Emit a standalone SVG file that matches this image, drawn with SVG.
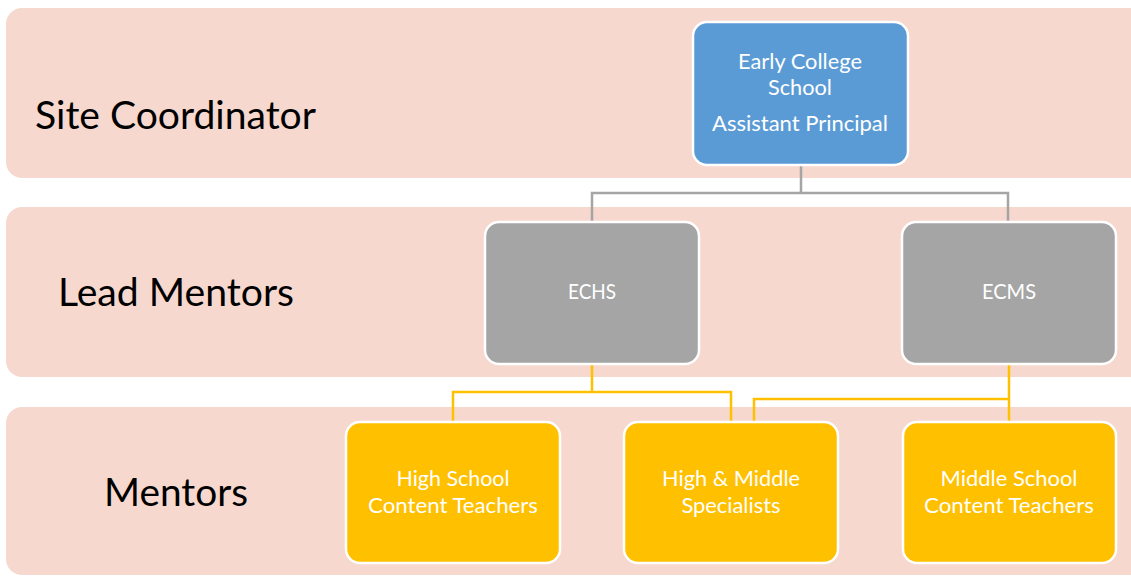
<svg xmlns="http://www.w3.org/2000/svg" width="1131" height="576" viewBox="0 0 1131 576">
  <style>
    .band { fill: #F7D8CE; }
    .lvl { font-family: Lato, "Open Sans", sans-serif; font-size: 38px; fill: #000000; }
    .node rect { stroke: #FFFFFF; stroke-width: 2.5; }
    .node text { font-family: Lato, "Open Sans", sans-serif; font-size: 21px; fill: #FFFFFF; text-anchor: middle; }
    .blue { fill: #5B9BD5; }
    .grey { fill: #A5A5A5; }
    .gold { fill: #FFC000; }
    .lnk-grey { fill: none; stroke: #A5A5A5; stroke-width: 2.5; }
    .lnk-gold { fill: none; stroke: #FFC000; stroke-width: 2.5; }
  </style>

  <rect width="1131" height="576" fill="#FFFFFF"/>

  <!-- level bands -->
  <g id="bands">
    <rect class="band" x="6" y="8" width="1145" height="170" rx="16"/>
    <rect class="band" x="6" y="207" width="1145" height="170" rx="16"/>
    <rect class="band" x="6" y="407" width="1145" height="168" rx="16"/>
    <text class="lvl" x="35" y="129" textLength="281" lengthAdjust="spacingAndGlyphs">Site Coordinator</text>
    <text class="lvl" x="58" y="306" textLength="236" lengthAdjust="spacingAndGlyphs">Lead Mentors</text>
    <text class="lvl" x="104" y="506" textLength="144" lengthAdjust="spacingAndGlyphs">Mentors</text>
  </g>

  <!-- connectors -->
  <g id="connectors">
    <path class="lnk-grey" d="M801 165 V193 M592 222 V193 H1008 V222"/>
    <path class="lnk-gold" d="M592 364 V392 M453 422 V392 H731 V422"/>
    <path class="lnk-gold" d="M1009 364 V399 M754 422 V399 H1009 V422"/>
  </g>

  <!-- site coordinator -->
  <g id="node-ecs" class="node">
    <rect class="blue" x="693" y="22" width="215" height="143" rx="14"/>
    <text x="800" y="69" textLength="124" lengthAdjust="spacingAndGlyphs">Early College</text>
    <text x="800" y="95" textLength="64" lengthAdjust="spacingAndGlyphs">School</text>
    <text x="800" y="131" textLength="176" lengthAdjust="spacingAndGlyphs">Assistant Principal</text>
  </g>

  <!-- lead mentors -->
  <g id="node-echs" class="node">
    <rect class="grey" x="485" y="222" width="214" height="142" rx="14"/>
    <text x="592" y="299" textLength="48" lengthAdjust="spacingAndGlyphs">ECHS</text>
  </g>
  <g id="node-ecms" class="node">
    <rect class="grey" x="902" y="222" width="214" height="142" rx="14"/>
    <text x="1009" y="299" textLength="54" lengthAdjust="spacingAndGlyphs">ECMS</text>
  </g>

  <!-- mentors -->
  <g id="node-hs" class="node">
    <rect class="gold" x="346" y="422" width="214" height="141" rx="14"/>
    <text x="453" y="486" textLength="113" lengthAdjust="spacingAndGlyphs">High School</text>
    <text x="453" y="513" textLength="170" lengthAdjust="spacingAndGlyphs">Content Teachers</text>
  </g>
  <g id="node-spec" class="node">
    <rect class="gold" x="624" y="422" width="214" height="141" rx="14"/>
    <text x="731" y="486" textLength="138" lengthAdjust="spacingAndGlyphs">High &amp; Middle</text>
    <text x="731" y="513" textLength="99" lengthAdjust="spacingAndGlyphs">Specialists</text>
  </g>
  <g id="node-ms" class="node">
    <rect class="gold" x="903" y="422" width="213" height="141" rx="14"/>
    <text x="1009" y="486" textLength="137" lengthAdjust="spacingAndGlyphs">Middle School</text>
    <text x="1009" y="513" textLength="170" lengthAdjust="spacingAndGlyphs">Content Teachers</text>
  </g>
</svg>
